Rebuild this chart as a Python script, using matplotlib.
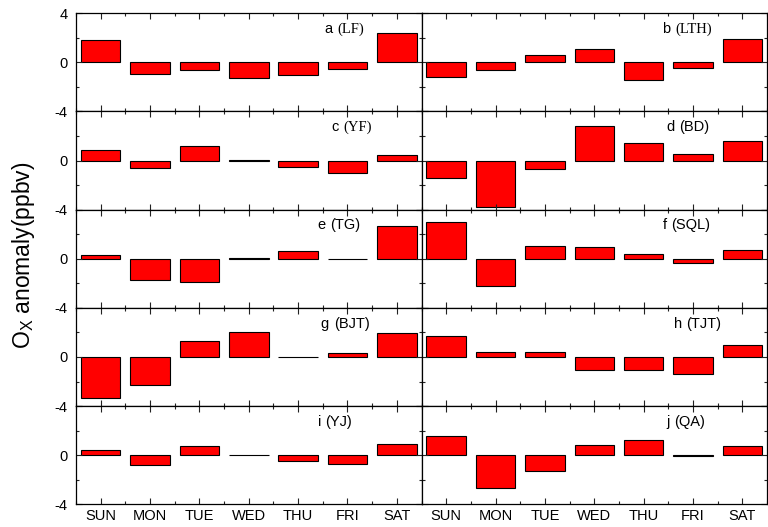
import numpy as np
import matplotlib.pyplot as plt
from matplotlib.ticker import MultipleLocator

plt.rcParams['font.family'] = ['Liberation Sans', 'DejaVu Sans']
plt.rcParams['mathtext.fontset'] = 'custom'
plt.rcParams['mathtext.rm'] = 'Liberation Sans'
plt.rcParams['mathtext.it'] = 'Liberation Sans'

days = ['SUN', 'MON', 'TUE', 'WED', 'THU', 'FRI', 'SAT']

# weekly O_x anomaly (ppbv) per site
lf = [1.80, -0.95, -0.63, -1.28, -1.03, -0.57, 2.42]
lth = [-1.22, -0.63, 0.57, 1.09, -1.44, -0.44, 1.88]
yf = [0.84, -0.57, 1.19, 0.02, -0.49, -1.05, 0.43]
bd = [-1.46, -3.81, -0.65, 2.78, 1.40, 0.51, 1.57]
tg = [0.27, -1.69, -1.88, 0.05, 0.60, 0.01, 2.67]
sql = [2.99, -2.20, 1.03, 0.95, 0.38, -0.38, 0.73]
bjt = [-3.32, -2.29, 1.31, 2.01, 0.01, 0.35, 1.96]
tjt = [1.74, 0.38, 0.38, -1.03, -1.09, -1.36, 0.95]
yj = [0.44, -0.77, 0.74, 0.01, -0.49, -0.74, 0.93]
qa = [1.58, -2.70, -1.28, 0.87, 1.23, -0.03, 0.79]

series = [lf, lth, yf, bd, tg, sql, bjt, tjt, yj, qa]
letters = ['a', 'b', 'c', 'd', 'e', 'f', 'g', 'h', 'i', 'j']
sites = ['(LF)', '(LTH)', '(YF)', '(BD)', '(TG)', '(SQL)', '(BJT)', '(TJT)', '(YJ)', '(QA)']
serif_site = [True, True, True, False, False, False, False, False, False, False]
label_x = [0.72, 0.70, 0.74, 0.71, 0.70, 0.70, 0.71, 0.73, 0.70, 0.71]

fig, axes = plt.subplots(5, 2, figsize=(7.68, 5.27), dpi=100)
fig.subplots_adjust(left=0.099, right=0.9987, top=0.975, bottom=0.043, wspace=0, hspace=0)

x = np.arange(len(days))
for k, ax in enumerate(axes.flat):
    row, col = divmod(k, 2)
    ax.bar(x, series[k], width=0.8, color='#ff0000', edgecolor='black', linewidth=0.8)
    ax.set_xlim(-0.5, 6.5)
    ax.set_ylim(-4, 4)
    ax.set_xticks(x)
    ax.xaxis.set_minor_locator(MultipleLocator(0.5))
    ax.set_yticks([-4, 0, 4])
    ax.yaxis.set_minor_locator(MultipleLocator(2))
    ax.tick_params(which='both', direction='in', top=True, right=True, labelsize=10.5,
                   width=0.8, color='#222222')
    ax.tick_params(which='major', length=4.5)
    ax.tick_params(which='minor', length=2.5)
    ax.tick_params(axis='y', pad=6)
    ax.tick_params(axis='x', pad=3)
    for s in ax.spines.values():
        s.set_linewidth(0.9)
    if col == 0:
        ax.set_yticklabels(['-4', '0', '4' if row == 0 else ''])
    else:
        ax.tick_params(labelleft=False)
    if row == 4:
        ax.set_xticklabels(days)
    else:
        ax.tick_params(labelbottom=False)

    t = ax.text(label_x[k], 0.80, letters[k] + ' ', transform=ax.transAxes,
                fontsize=10.5, ha='left', va='baseline')
    if serif_site[k]:
        ax.annotate(sites[k], xy=(1, 0), xycoords=t, va='bottom', ha='left',
                    fontsize=10.5, family='Liberation Serif')
    else:
        ax.annotate(sites[k], xy=(1, 0), xycoords=t, va='bottom', ha='left',
                    fontsize=10.5)

fig.text(0.03, 0.516, r'O$_{\mathrm{X}}$ anomaly(ppbv)', rotation=90,
         fontsize=16.5, ha='center', va='center')

fig.savefig('out.png', dpi=100)
